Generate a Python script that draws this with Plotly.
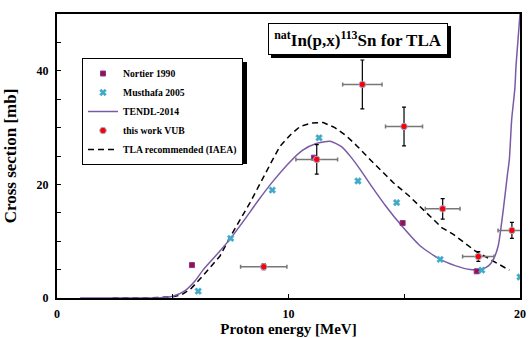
import plotly.graph_objects as go

# Nortier 1990
nort_E = [5.83, 11.1, 14.93, 18.13]
nort_s = [5.8, 24.7, 13.2, 4.7]

# Musthafa 2005
must_E = [6.1, 7.5, 9.3, 11.32, 13.0, 14.67, 16.55, 18.35, 20.0]
must_s = [1.2, 10.5, 19.0, 28.2, 20.6, 16.8, 6.8, 4.9, 3.7]

# TENDL-2014
tendl_E = [1.0, 3.0, 4.5, 5.0, 5.5, 5.96, 6.32, 7.0, 7.5, 8.1, 8.7, 9.3, 10.07, 10.6, 11.2, 11.8, 12.3,
           12.7, 13.1, 13.6, 14.2, 14.89, 15.68, 16.55, 17.2, 17.84, 18.35, 18.65, 18.85, 19.06, 19.28,
           19.45, 19.54, 19.64, 19.78, 19.83, 20.0]
tendl_s = [0.0, 0.0, 0.05, 0.3, 1.2, 3.0, 5.0, 8.1, 10.5, 13.8, 17.2, 20.4, 24.0, 26.0, 27.2, 27.6, 26.6,
           24.8, 22.6, 19.6, 16.2, 12.7, 9.2, 6.8, 5.7, 5.0, 5.1, 5.7, 6.8, 9.2, 15.6,
           21.5, 24.4, 31.4, 37.0, 41.0, 50.0]

# TLA recommended (IAEA)
tla_E = [2.4, 4.0, 5.0, 5.4, 5.8, 6.3, 7.04, 7.5, 8.34, 8.77, 9.27, 9.63, 10.1, 10.5, 11.0, 11.5, 12.0,
         12.51, 13.0, 13.52, 14.0, 14.53, 15.2, 15.82, 16.62, 17.12, 18.06, 18.8, 19.54]
tla_s = [0.0, 0.0, 0.2, 0.6, 1.7, 3.9, 7.4, 10.9, 16.8, 20.2, 24.0, 26.7, 28.8, 30.2, 30.8, 30.9, 30.0,
         28.5, 26.6, 24.4, 22.4, 20.3, 18.0, 15.6, 12.4, 11.2, 8.3, 6.6, 4.9]

# this work VUB
vub_E = [8.93, 11.22, 13.19, 14.99, 16.66, 18.2, 19.65]
vub_s = [5.5, 24.4, 37.6, 30.2, 15.7, 7.3, 11.9]
vub_dE = [1.0, 0.9, 0.85, 0.8, 0.75, 0.68, 0.6]
vub_ds = [0.5, 2.6, 4.3, 3.4, 1.8, 0.85, 1.4]

serif = "Liberation Serif"

L, R, T, B = 57, 9, 14, 40
W, H = 529, 338
PW, PH = W - L - R, H - T - B


def px(x):
    return (x - L) / PW


def py(y):
    return (H - B - y) / PH


fig = go.Figure()
fig.add_trace(go.Scatter(x=tla_E, y=tla_s, mode="lines", name="TLA recommended (IAEA)",
                         line=dict(color="black", width=1.5, dash="6px,4px"), legendrank=5))
fig.add_trace(go.Scatter(x=tendl_E, y=tendl_s, mode="lines", name="TENDL-2014",
                         line=dict(color="#7a5aa6", width=1.5, shape="spline", smoothing=0.6),
                         legendrank=3))
fig.add_trace(go.Scatter(x=nort_E, y=nort_s, mode="markers", name="Nortier 1990",
                         marker=dict(symbol="square", size=5, color="#a0103a",
                                     line=dict(color="#7a3aa0", width=1)), legendrank=1))
fig.add_trace(go.Scatter(x=must_E, y=must_s, mode="markers", name="Musthafa 2005",
                         marker=dict(symbol="x", size=6, color="#40a8c8",
                                     line=dict(color="#40a8c8", width=0.5)), legendrank=2))
fig.add_trace(go.Scatter(x=vub_E, y=vub_s, mode="markers", name="this work VUB",
                         marker=dict(symbol="circle", size=6.5, color="#ff0000",
                                     line=dict(color="#9ab0d8", width=1)),
                         error_x=dict(type="data", array=vub_dE, color="#777777", thickness=1.5, width=2),
                         error_y=dict(type="data", array=vub_ds, color="black", thickness=1.2, width=2),
                         legendrank=4))

fig.update_layout(
    width=W, height=H,
    margin=dict(l=L, r=R, t=T, b=B),
    paper_bgcolor="white", plot_bgcolor="white",
    font=dict(family=serif, color="black", size=11),
    showlegend=True,
    legend=dict(x=px(82), y=py(58), xanchor="left", yanchor="top",
                bgcolor="white", bordercolor="black", borderwidth=1,
                font=dict(family=serif, size=9.7, color="black", weight="bold"),
                tracegroupgap=0, itemwidth=30),
    xaxis=dict(range=[0, 20], showgrid=False, zeroline=False, automargin=False,
               showline=True, linecolor="black", linewidth=2, mirror=True,
               ticks="inside", ticklen=4, tickcolor="black", dtick=10, tick0=0,
               ticklabelstandoff=4,
               minor=dict(dtick=5, ticks="inside", ticklen=4, tickcolor="black"),
               tickfont=dict(family=serif, size=12, weight="bold"),
               title=dict(text="Proton energy [MeV]", standoff=0,
                          font=dict(family=serif, size=15, weight="bold"))),
    yaxis=dict(range=[0, 50], showgrid=False, zeroline=False, automargin=False,
               showline=True, linecolor="black", linewidth=2, mirror=True,
               ticks="inside", ticklen=4, tickcolor="black", dtick=20, tick0=0,
               ticklabelstandoff=4,
               minor=dict(dtick=5, ticks="inside", ticklen=4, tickcolor="black"),
               tickfont=dict(family=serif, size=12, weight="bold"),
               title=dict(text="Cross section [mb]", standoff=16,
                          font=dict(family=serif, size=17, weight="bold"))),
)

# legend shadow
fig.add_shape(type="rect", xref="paper", yref="paper",
              x0=px(86), x1=px(247), y0=py(164), y1=py(62),
              fillcolor="black", line=dict(width=0), layer="above")
# title box shadow
fig.add_shape(type="rect", xref="paper", yref="paper",
              x0=px(271), x1=px(451), y0=py(58), y1=py(26),
              fillcolor="black", line=dict(width=0), layer="above")
fig.add_annotation(text="<sup>nat</sup>In(p,x)<sup>113</sup>Sn for TLA",
                   xref="paper", yref="paper", x=px(358), y=py(39),
                   xanchor="center", yanchor="middle",
                   width=174, height=26, align="center", valign="middle",
                   showarrow=False, bgcolor="white", bordercolor="black", borderwidth=1,
                   borderpad=2, font=dict(family=serif, size=17, weight="bold", color="black"))

fig.write_html("out.html")
